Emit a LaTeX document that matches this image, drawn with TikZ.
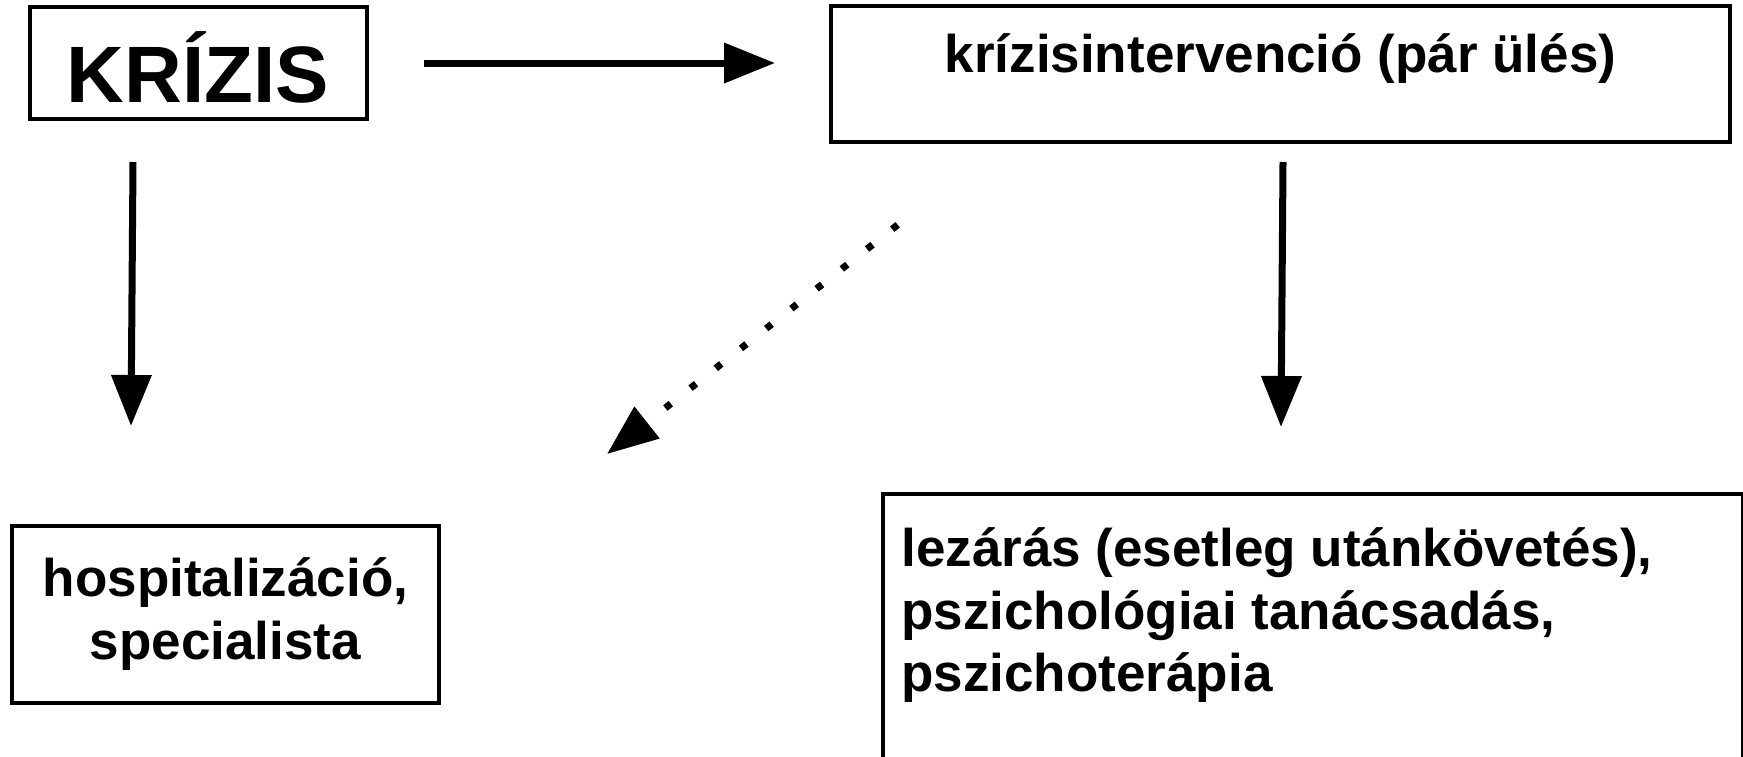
\documentclass[tikz,border=0pt]{standalone}
\usepackage{fontspec}
\setmainfont{Liberation Sans}
\usetikzlibrary{arrows.meta}
\begin{document}
\begin{tikzpicture}[x=0.5pt,y=-0.5pt,
  box/.style={draw, line width=1.6pt, rectangle, inner sep=0pt},
  lbl/.style={inner sep=0pt, anchor=base, font=\fontsize{26.5}{30}\selectfont\bfseries},
  lblw/.style={lbl, anchor=base west},
  big/.style={inner sep=0pt, anchor=base, font=\fontsize{40}{44}\selectfont\bfseries},
  arr/.style={line width=3.5pt, -{Triangle[length=25.5pt,width=19.5pt]}},
  dotarr/.style={arr, line cap=butt, dash pattern=on 3.5pt off 12.55pt}]
\useasboundingbox (0,0) rectangle (1743,756);
\clip (0,0) rectangle (1743,756);
\fill[white] (0,0) rectangle (1743,756);
% boxes
\node[box, minimum width=168.5pt, minimum height=56pt] (krizis) at (198.5,63) {};
\node[box, minimum width=449.5pt, minimum height=68pt] (inter) at (1280.5,74) {};
\node[box, minimum width=213.5pt, minimum height=88.5pt] (hosp) at (225.5,614.5) {};
\node[box, minimum width=430pt, minimum height=153pt] (lez) at (1313,647) {};
% texts
\node[big] (krizisT) at (198,102) {KRÍZIS};
\node[lbl] (interT) at (1280.5,72) {krízisintervenció (pár ülés)};
\node[lbl] (hosp1) at (225.5,596) {hospitalizáció,};
\node[lbl] (hosp2) at (225.5,659) {specialista};
\node[lblw] (lez1) at (901,566) {lezárás (esetleg utánkövetés),};
\node[lblw] (lez2) at (901,629) {pszichológiai tanácsadás,};
\node[lblw] (lez3) at (901,691) {pszichoterápia};
% arrow end points
\coordinate (a1s) at (424,63);
\coordinate (a1e) at (775,63);
\coordinate (a2s) at (133,162);
\coordinate (a2e) at (131,426);
\coordinate (a3s) at (1283,162);
\coordinate (a3e) at (1281,427);
\coordinate (a4s) at (897.7,224.8);
\coordinate (a4e) at (607,454);
% connectors
\draw[arr] (a1s) -- (a1e);
\draw[arr] (a2s) -- (a2e);
\draw[arr] (a3s) -- (a3e);
\draw[dotarr] (a4s) -- (a4e);
\end{tikzpicture}
\end{document}
